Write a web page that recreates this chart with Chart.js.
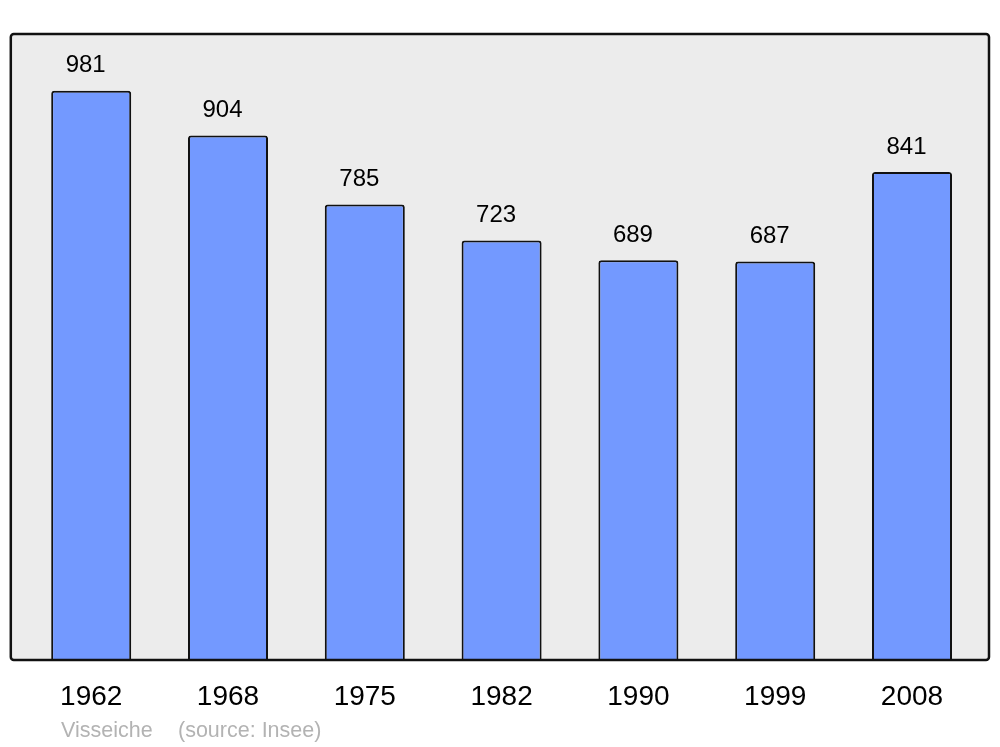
<!DOCTYPE html>
<html>
<head>
<meta charset="utf-8">
<script src="https://cdn.jsdelivr.net/npm/chart.js@4"></script>
<style>
html,body{margin:0;padding:0;background:#fff;}
#wrap{position:relative;width:1000px;height:747px;}
</style>
</head>
<body>
<div id="wrap"><canvas id="c" width="1000" height="747"></canvas></div>
<script>
const years = ['1962','1968','1975','1982','1990','1999','2008'];
const population = [981, 904, 785, 723, 689, 687, 841];
const footerName = 'Visseiche';
const footerSource = '(source: Insee)';

const frame = {
  id: 'frame',
  beforeDraw(chart) {
    const {ctx, chartArea: a} = chart;
    const l = a.left - 12, r = a.right + 8.6, t = a.top, b = a.bottom;
    ctx.save();
    ctx.beginPath();
    ctx.roundRect(l, t, r - l, b - t, 3);
    ctx.fillStyle = '#ececec';
    ctx.fill();
    ctx.restore();
  },
  afterDatasetsDraw(chart) {
    const {ctx, chartArea: a} = chart;
    const l = a.left - 12, r = a.right + 8.6, t = a.top, b = a.bottom;
    ctx.save();
    ctx.beginPath();
    ctx.roundRect(l, t, r - l, b - t, 3);
    ctx.lineWidth = 2.5;
    ctx.strokeStyle = '#111';
    ctx.stroke();
    // value labels
    const meta = chart.getDatasetMeta(0);
    ctx.font = '24px "Liberation Sans", Arial, sans-serif';
    ctx.fillStyle = '#000';
    ctx.textAlign = 'center';
    ctx.textBaseline = 'middle';
    meta.data.forEach((bar, i) => {
      ctx.fillText(String(population[i]), bar.x - 5.5, bar.y - 25);
    });
    // footer
    ctx.font = '21.5px "Liberation Sans", Arial, sans-serif';
    ctx.fillStyle = '#b3b3b3';
    ctx.textAlign = 'left';
    ctx.fillText(footerName, 61, 731);
    ctx.fillText(footerSource, 178, 731);
    ctx.restore();
  }
};

new Chart(document.getElementById('c'), {
  type: 'bar',
  data: {
    labels: years,
    datasets: [{
      data: population,
      backgroundColor: '#7399ff',
      borderColor: '#111',
      borderWidth: 2,
      borderSkipped: 'bottom',
      borderRadius: {topLeft: 3, topRight: 3, bottomLeft: 0, bottomRight: 0},
      categoryPercentage: 0.585,
      barPercentage: 1.0
    }]
  },
  options: {
    responsive: false,
    animation: false,
    devicePixelRatio: 1,
    layout: {padding: {left: 22.8, right: 19.6, top: 34, bottom: 0}},
    plugins: {legend: {display: false}, tooltip: {enabled: false}},
    scales: {
      x: {
        offset: true,
        grid: {display: false, drawTicks: false},
        border: {display: false},
        ticks: {
          color: '#000',
          font: {family: '"Liberation Sans", Arial, sans-serif', size: 28},
          padding: 20,
          maxRotation: 0
        },
        afterFit(scale) { scale.height = 87; }
      },
      y: {
        display: false,
        min: 0,
        max: 1079
      }
    }
  },
  plugins: [frame]
});
</script>
</body>
</html>
